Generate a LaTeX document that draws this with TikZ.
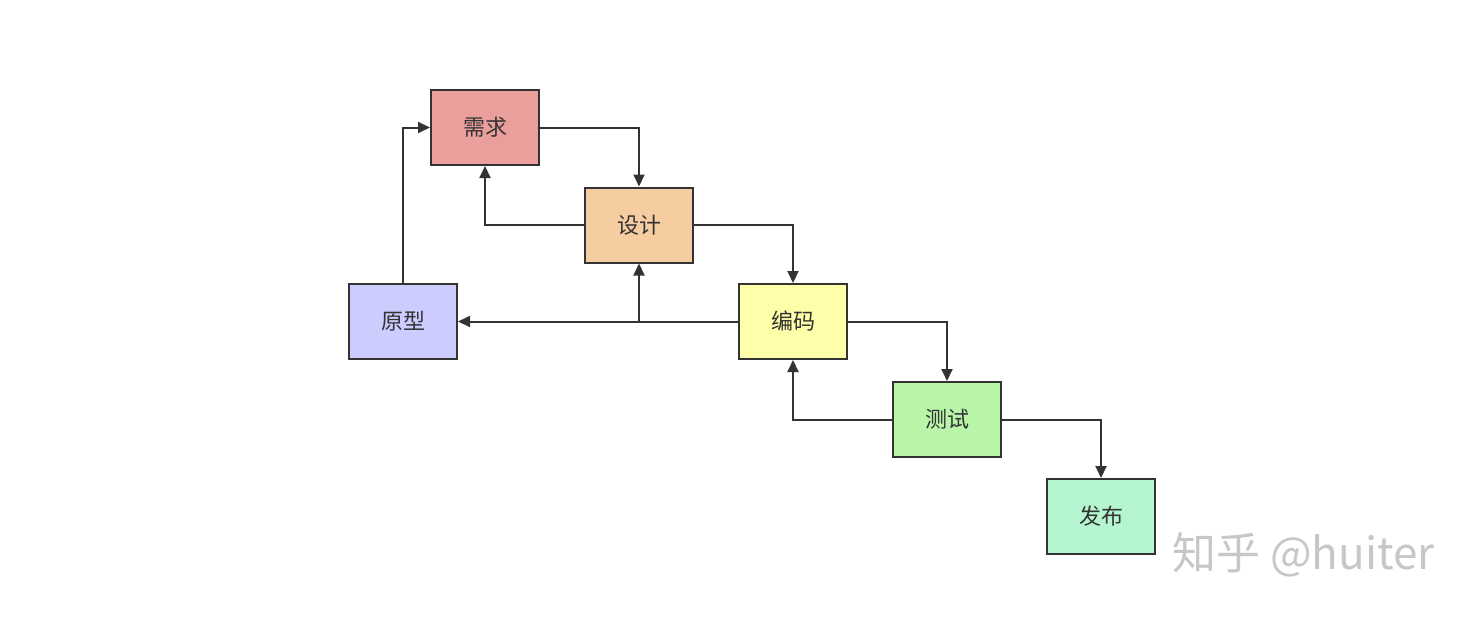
\documentclass[tikz,border=0pt]{standalone}
\usepackage{fontspec}
\setmainfont{Noto Sans CJK SC}
\usetikzlibrary{arrows.meta}
\definecolor{edge}{HTML}{333333}
\definecolor{cxq}{HTML}{EA9F9C}
\definecolor{csj}{HTML}{F6CCA1}
\definecolor{cyx}{HTML}{CCCCFF}
\definecolor{cbm}{HTML}{FFFFAA}
\definecolor{ccs}{HTML}{B9F5A9}
\definecolor{cfb}{HTML}{B5F5D0}
\begin{document}
\begin{tikzpicture}[x=1pt,y=-1pt,
  stage/.style={draw=edge,line width=2pt,minimum width=108pt,minimum height=75pt,inner sep=0pt,
    font=\fontsize{22}{26}\selectfont,text=edge},
  conn/.style={draw=edge,line width=2pt,-{Triangle[length=12pt,width=11pt]}},
  plain/.style={draw=edge,line width=2pt}]
\useasboundingbox (0,0) rectangle (1480,616);
\node[stage,fill=cxq] (xq) at (485,127.5) {需求};
\node[stage,fill=csj] (sj) at (639,225) {设计};
\node[stage,fill=cyx] (yx) at (403,321.5) {原型};
\node[stage,fill=cbm] (bm) at (793,321.5) {编码};
\node[stage,fill=ccs] (cs) at (947,419.5) {测试};
\node[stage,fill=cfb] (fb) at (1101,516.5) {发布};
\coordinate (br) at (sj.south |- bm.west);
\draw[conn] (xq.east) -| (sj.north);
\draw[conn] (sj.west) -| (xq.south);
\draw[conn] (sj.east) -| (bm.north);
\draw[conn] (bm.west) -- (yx.east);
\draw[conn] (br) -- (sj.south);
\draw[conn] (yx.north) |- (xq.west);
\draw[conn] (bm.east) -| (cs.north);
\draw[conn] (cs.west) -| (bm.south);
\draw[conn] (cs.east) -| (fb.north);
\node[text=black!22,font=\fontsize{44}{48}\selectfont,anchor=west,inner sep=0pt] (wm) at (1172,555) {知乎 @huiter};
\end{tikzpicture}
\end{document}
